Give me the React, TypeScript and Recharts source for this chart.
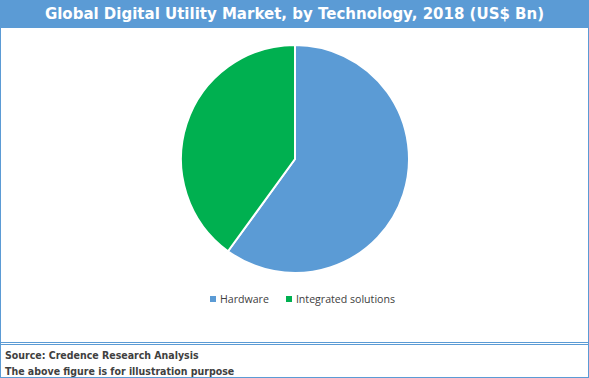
import { PieChart, Pie, Cell, Legend } from "recharts"

const technologies = ["Hardware", "Integrated solutions"]
const shares = [60, 40]
const sliceColors = ["#5B9BD5", "#00B050"]

const data = technologies.map((name, i) => ({ name, value: shares[i] }))

const BLUE = "#5B9BD5"
const TEXT = "#404040"

function LegendRow() {
  return (
    <div
      style={{
        display: "flex",
        justifyContent: "center",
        gap: 17,
        fontSize: 10.6,
        fontFamily: "'Open Sans', sans-serif",
        color: TEXT,
        paddingLeft: 16,
      }}
    >
      {technologies.map((name, i) => (
        <div key={name} style={{ display: "flex", alignItems: "center" }}>
          <span
            style={{
              width: 6,
              height: 6,
              background: sliceColors[i],
              marginRight: 4,
              display: "inline-block",
            }}
          />
          <span>{name}</span>
        </div>
      ))}
    </div>
  )
}

export default function App() {
  return (
    <div
      style={{
        position: "absolute",
        left: 0,
        top: 0,
        width: 589,
        height: 378,
        boxSizing: "border-box",
        border: `1px solid ${BLUE}`,
        background: "#fff",
        fontFamily: "'DejaVu Sans', sans-serif",
      }}
    >
      <div
        style={{
          height: 27,
          background: BLUE,
          color: "#fff",
          fontWeight: "bold",
          fontSize: 15,
          lineHeight: "26px",
          textAlign: "center",
        }}
      >
        Global Digital Utility Market, by Technology, 2018 (US$ Bn)
      </div>
      <PieChart width={587} height={314} margin={{ top: 0, right: 0, bottom: 0, left: 0 }}>
        <Pie
          data={data}
          dataKey="value"
          nameKey="name"
          cx={294}
          cy={131}
          outerRadius={114}
          startAngle={90}
          endAngle={-270}
          stroke="#fff"
          strokeWidth={2}
          isAnimationActive={false}
        >
          {data.map((d, i) => (
            <Cell key={d.name} fill={sliceColors[i]} />
          ))}
        </Pie>
        <Legend
          verticalAlign="bottom"
          content={() => <LegendRow />}
          wrapperStyle={{ top: 264, bottom: "auto", left: 0, width: 587 }}
        />
      </PieChart>
      <div
        style={{
          borderTop: `3px double ${BLUE}`,
          padding: "2px 4px 0",
          color: TEXT,
          fontWeight: "bold",
          fontSize: 10.5,
          fontFamily: "'DejaVu Sans Condensed', 'DejaVu Sans', sans-serif",
          lineHeight: "16px",
        }}
      >
        <div>Source: Credence Research Analysis</div>
        <div>The above figure is for illustration purpose</div>
      </div>
    </div>
  )
}
